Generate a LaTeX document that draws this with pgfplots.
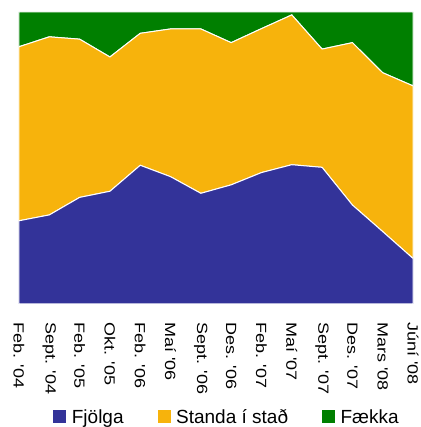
\documentclass[border=0pt]{standalone}
\usepackage{fontspec}
\setmainfont{Liberation Sans}
\usepackage{pgfplots}
\pgfplotsset{compat=1.18}
\usetikzlibrary{calc}
\definecolor{cBlue}{HTML}{333399}
\definecolor{cOrange}{HTML}{F7B30C}
\definecolor{cGreen}{HTML}{007F00}
\def\q{\textquotesingle}
\begin{document}
\begin{tikzpicture}
\begin{axis}[
  name=ax, at={(0,0)}, anchor=south west,
  scale only axis, width=394pt, height=292pt,
  xmin=0, xmax=13, ymin=0, ymax=100,
  stack plots=y,
  axis line style={draw=none},
  ytick=\empty,
  xtick={0,...,13},
  xticklabels={Feb. \q04, Sept. \q04, Feb. \q05, Okt. \q05, Feb. \q06, Maí \q06, Sept. \q06, Des. \q06, Feb. \q07, Maí \q07, Sept. \q07, Des. \q07, Mars \q08, Júní \q08},
  major tick length=0pt,
  xticklabel style={rotate=-90, anchor=west, inner sep=0pt, font=\fontsize{18}{18}\selectfont, yscale=0.82},
  xticklabel shift=18pt,
  legend style={at={(0.528,-0.421)}, anchor=south, draw=none, inner sep=0pt,
    font=\fontsize{19}{20}\selectfont, legend columns=-1,
    /tikz/every even column/.append style={column sep=32pt}},
  legend image code/.code={\fill[#1, draw=none] (0pt,-6.5pt) rectangle (13pt,6.5pt); \path (16pt,0pt);},
]
% Fjolga
\addplot[fill=cBlue, draw=white, line width=1pt] coordinates {
  (0,28.5) (1,30.5) (2,36.5) (3,38.6) (4,47.5) (5,43.6) (6,37.9)
  (7,40.8) (8,45.0) (9,47.7) (10,46.8) (11,33.9) (12,24.8) (13,15.6)
} \closedcycle;
\addlegendentry{Fjölga}
% Standa i stad
\addplot[fill=cOrange, draw=white, line width=1pt] coordinates {
  (0,59.6) (1,61.0) (2,54.2) (3,46.0) (4,45.2) (5,50.6) (6,56.3)
  (7,48.7) (8,49.3) (9,51.3) (10,40.5) (11,55.6) (12,54.4) (13,59.1)
} \closedcycle;
\addlegendentry{Standa í stað}
% Faekka
\addplot[fill=cGreen, draw=white, line width=1pt] coordinates {
  (0,11.9) (1,8.5) (2,9.3) (3,15.4) (4,7.3) (5,5.8) (6,5.8)
  (7,10.5) (8,5.7) (9,1.0) (10,12.7) (11,10.5) (12,20.8) (13,25.3)
} \closedcycle;
\addlegendentry{Fækka}
\end{axis}
\pgfresetboundingbox
\path[use as bounding box] ($(ax.south west)+(-19pt,-123pt)$) rectangle ($(ax.north east)+(7pt,12pt)$);
\end{tikzpicture}
\end{document}
